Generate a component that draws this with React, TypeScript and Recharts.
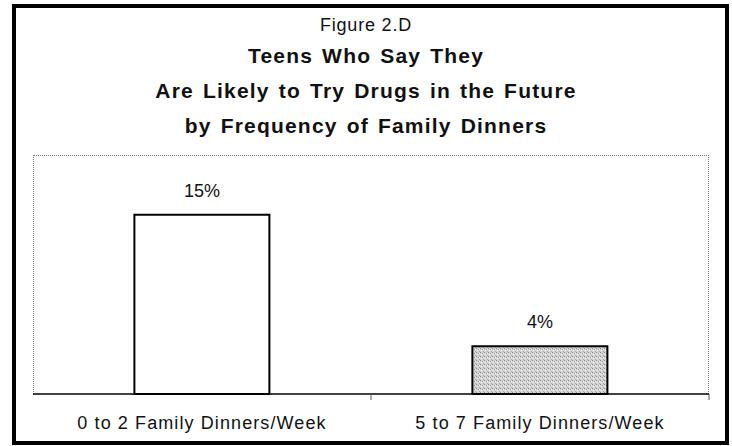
import { BarChart, Bar, XAxis, YAxis, Cell, LabelList } from "recharts"

const categories = ["0 to 2 Family Dinners/Week", "5 to 7 Family Dinners/Week"]
const values = [15, 4]
const fills = ["#ffffff", "url(#dither)"]
const titleLines = ["Teens Who Say They", "Are Likely to Try Drugs in the Future", "by Frequency of Family Dinners"]

const data = categories.map((name, i) => ({ name, value: values[i] }))

const W = 732
const H = 446
const PLOT = { left: 33, right: 709, top: 155, bottom: 394 }
const font = "'Liberation Sans', Arial, sans-serif"

function CategoryTick({ x, y, payload }: any) {
  const band = (PLOT.right - PLOT.left) / categories.length
  return (
    <g>
      <line x1={x + band / 2} x2={x + band / 2} y1={y} y2={y + 6} stroke="#555" />
      <text x={x} y={y + 35} textAnchor="middle" fontSize={18} letterSpacing={1.1} fill="#111" fontFamily={font}>
        {payload.value}
      </text>
    </g>
  )
}

export default function App() {
  return (
    <div style={{ position: "absolute", left: 0, top: 0, width: W, height: H, overflow: "hidden", background: "#fff", fontFamily: font }}>
      <div style={{ position: "absolute", left: 0, width: W, top: 14, textAlign: "center", fontSize: 18, lineHeight: "22px", letterSpacing: 0.8, color: "#111" }}>Figure 2.D</div>
      <div style={{ position: "absolute", left: 0, width: W, top: 38, textAlign: "center", fontSize: 21, fontWeight: "bold", letterSpacing: 1.2, wordSpacing: 2, lineHeight: "35px", color: "#111" }}>
        {titleLines.map((t) => <div key={t}>{t}</div>)}
      </div>
      <div style={{ position: "absolute", left: PLOT.left, top: PLOT.top, width: PLOT.right - PLOT.left, height: PLOT.bottom - PLOT.top, boxSizing: "border-box", borderTop: "1px dotted #777", borderLeft: "1px dotted #777", borderRight: "1px dotted #777" }} />
      <div style={{ position: "absolute", left: 0, top: 0 }}>
        <BarChart width={W} height={H} data={data} barCategoryGap="30%"
          margin={{ top: PLOT.top, left: PLOT.left, right: W - PLOT.right, bottom: H - PLOT.bottom - 40 }}>
          <defs>
            <pattern id="dither" width="4" height="4" patternUnits="userSpaceOnUse">
              <rect width="4" height="4" fill="#d4d4d4" />
              <rect x="0" y="0" width="1" height="1" fill="#888" />
              <rect x="2" y="1" width="1" height="1" fill="#999" />
              <rect x="1" y="2" width="1" height="1" fill="#f4f4f4" />
              <rect x="3" y="3" width="1" height="1" fill="#aaa" />
              <rect x="3" y="1" width="1" height="1" fill="#eee" />
            </pattern>
          </defs>
          <XAxis dataKey="name" height={40} axisLine={{ stroke: "#000", strokeWidth: 1.5 }} tickLine={false} tickSize={0} tickMargin={0} tick={<CategoryTick />} interval={0} />
          <YAxis hide domain={[0, 20]} />
          <Bar dataKey="value" stroke="#000" strokeWidth={2} isAnimationActive={false}>
            {data.map((d, i) => <Cell key={d.name} fill={fills[i]} />)}
            <LabelList dataKey="value" position="top" offset={18} formatter={(v: any) => `${v}%`} fill="#111" fontSize={18} fontFamily={font} />
          </Bar>
        </BarChart>
      </div>
      <svg width={W} height={H} style={{ position: "absolute", left: 0, top: 0, pointerEvents: "none" }}>
        <rect x={14} y={6} width={713} height={437} fill="none" stroke="#000" strokeWidth={4} />
      </svg>
    </div>
  )
}
